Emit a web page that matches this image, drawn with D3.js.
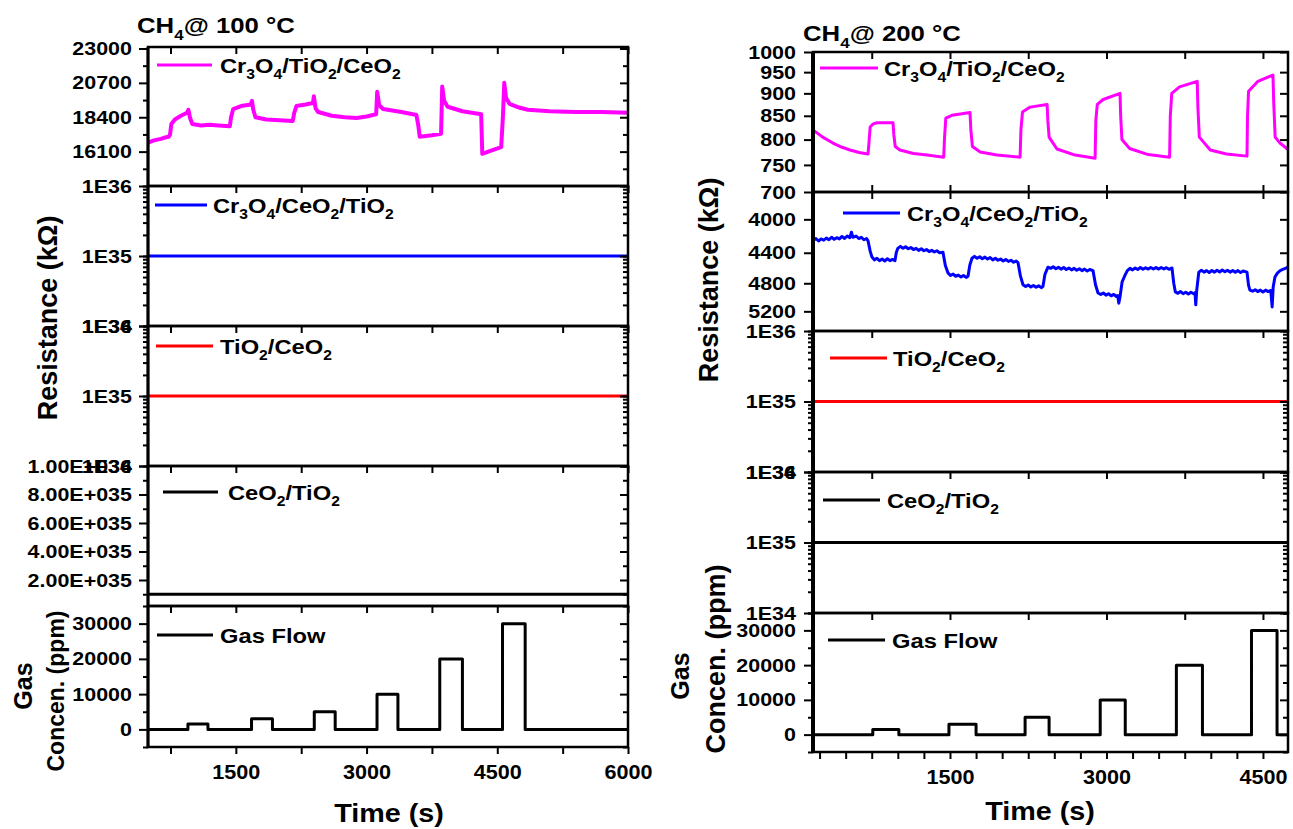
<!DOCTYPE html>
<html>
<head>
<meta charset="utf-8">
<script src="https://cdn.jsdelivr.net/npm/d3@7"></script>
<style>
  body { margin: 0; background: #fff; }
  svg text { font-family: Arial, "Liberation Sans", sans-serif; font-weight: bold; fill: #000; }
</style>
</head>
<body>
<svg id="chart" width="1293" height="829"></svg>
<script>
// ---- data ----
// CH4 @ 100 C, Cr3O4/TiO2/CeO2 resistance (kOhm) vs time (s)
const cr3TiCe100 = [
  [492,16700],[560,16850],[640,16950],[690,17050],[730,17100],[745,17250],[760,17950],[800,18250],[870,18500],
  [940,18700],[955,18900],[975,18350],[1000,17950],[1100,17850],[1200,17900],[1300,17850],[1431,17800],
  [1445,18400],[1470,18950],[1560,19150],[1670,19250],[1685,19500],[1700,18900],[1725,18400],[1850,18250],
  [2000,18200],[2153,18150],[2170,18700],[2195,19150],[2300,19250],[2385,19350],[2395,19800],[2415,19000],
  [2445,18750],[2600,18500],[2750,18400],[2885,18350],[3000,18450],[3110,18600],[3122,20100],[3145,19200],
  [3190,18950],[3400,18750],[3572,18550],[3595,17800],[3610,17100],[3750,17200],[3855,17300],[3868,20450],
  [3890,19500],[3930,19100],[4100,18800],[4315,18600],[4328,15950],[4420,16150],[4545,16400],[4565,18500],
  [4580,20700],[4600,19700],[4640,19300],[4750,19050],[4850,18900],[5100,18800],[5400,18750],[5700,18750],
  [6000,18700]
];
// CH4 @ 200 C, Cr3O4/TiO2/CeO2
const cr3TiCe200 = [
  [187,820],[280,805],[378,793],[460,785],[541,779],[630,774],[714,771],[722,790],[735,826],[760,832],
  [800,835],[954,835],[962,810],[975,786],[1020,779],[1150,772],[1280,769],[1440,765],[1448,805],[1460,845],
  [1519,851],[1600,854],[1692,857],[1700,820],[1715,786],[1790,775],[1950,769],[2172,765],[2180,820],
  [2195,858],[2268,869],[2431,875],[2438,840],[2450,805],[2525,781],[2700,769],[2891,763],[2898,840],
  [2912,875],[2968,886],[3130,900],[3136,850],[3148,800],[3222,782],[3400,770],[3605,765],[3612,850],
  [3626,900],[3700,915],[3870,928],[3876,870],[3890,805],[3995,779],[4150,771],[4347,767],[4352,850],
  [4362,905],[4452,928],[4596,943],[4603,880],[4617,805],[4663,793],[4740,780]
];
// CH4 @ 200 C, Cr3O4/CeO2/TiO2 (noisy trace)
const cr3CeTi200 = [
  [190,4250],[215,4225],[240,4255],[265,4230],[290,4245],[315,4220],[340,4240],[365,4210],[390,4235],
  [415,4215],[440,4230],[465,4200],[490,4225],[515,4195],[540,4215],[555,4150],[570,4210],[600,4195],
  [625,4225],[650,4210],[675,4240],[700,4225],[714,4250],[735,4380],[752,4455],[775,4490],[800,4470],
  [825,4500],[850,4480],[875,4505],[900,4475],[925,4500],[950,4485],[973,4500],[985,4400],[1000,4345],
  [1025,4320],[1050,4345],[1075,4325],[1100,4350],[1125,4335],[1150,4360],[1175,4345],[1200,4370],
  [1225,4350],[1250,4375],[1275,4360],[1300,4385],[1325,4370],[1350,4390],[1375,4375],[1400,4400],
  [1433,4395],[1455,4560],[1481,4660],[1505,4695],[1530,4675],[1555,4705],[1580,4690],[1605,4715],
  [1630,4695],[1655,4720],[1673,4705],[1690,4560],[1711,4470],[1735,4445],[1760,4470],[1785,4450],
  [1810,4475],[1835,4455],[1860,4480],[1885,4460],[1910,4490],[1935,4470],[1960,4495],[1985,4480],
  [2010,4505],[2035,4485],[2060,4510],[2085,4495],[2110,4520],[2135,4505],[2152,4525],[2175,4700],
  [2200,4820],[2225,4845],[2250,4825],[2275,4850],[2300,4830],[2325,4855],[2350,4835],[2375,4860],
  [2391,4845],[2410,4680],[2439,4585],[2465,4600],[2490,4580],[2515,4605],[2540,4585],[2565,4610],
  [2590,4590],[2615,4615],[2640,4595],[2665,4620],[2690,4600],[2715,4625],[2740,4605],[2765,4630],
  [2790,4610],[2815,4635],[2840,4615],[2871,4630],[2895,4820],[2919,4935],[2945,4955],[2970,4935],
  [2995,4965],[3020,4945],[3045,4975],[3070,4955],[3095,4985],[3108,4970],[3118,5080],[3130,4990],
  [3150,4780],[3178,4690],[3200,4630],[3225,4600],[3250,4620],[3275,4595],[3300,4615],[3325,4590],
  [3350,4612],[3375,4592],[3400,4610],[3425,4588],[3450,4608],[3475,4590],[3500,4610],[3525,4588],
  [3550,4608],[3575,4592],[3600,4612],[3628,4595],[3645,4800],[3660,4920],[3685,4940],[3710,4915],
  [3735,4945],[3760,4925],[3785,4950],[3810,4925],[3835,4945],[3849,4930],[3856,5105],[3865,4900],
  [3885,4650],[3910,4625],[3935,4650],[3960,4630],[3985,4655],[4010,4628],[4035,4650],[4060,4625],
  [4085,4648],[4110,4622],[4135,4645],[4160,4625],[4185,4650],[4210,4628],[4235,4652],[4260,4630],
  [4285,4655],[4310,4635],[4347,4650],[4362,4830],[4375,4895],[4400,4910],[4425,4890],[4450,4915],
  [4475,4895],[4500,4920],[4525,4895],[4550,4915],[4575,4900],[4588,5135],[4598,4850],[4615,4715],
  [4640,4660],[4665,4630],[4690,4615],[4715,4600],[4740,4585]
];
// sensors that stay flat
const flatLevel = 1e35;

// gas pulses
const gasLevel = [1500, 3000, 5000, 10000, 20000, 30000];
const gasStart100 = [950, 1680, 2400, 3120, 3840, 4560];
const gasEnd100 = [1180, 1920, 2640, 3360, 4100, 4820];
const gasStart200 = [760, 1490, 2220, 2940, 3670, 4390];
const gasEnd200 = [1010, 1750, 2450, 3180, 3920, 4635];

// tick labels
const ticks100Top = [16100, 18400, 20700, 23000];
const ticks200Top = [700, 750, 800, 850, 900, 950, 1000];
const ticks200Blue = [4000, 4400, 4800, 5200];
const logTicks = [1e34, 1e35, 1e36];
const linTicks = [2e35, 4e35, 6e35, 8e35, 1e36];
const gasTicks = [0, 10000, 20000, 30000];
const timeTicks100 = [1500, 3000, 4500, 6000];
const timeTicks200 = [1500, 3000, 4500];

// ---- helpers ----
const svg = d3.select('#chart');
const SX = 1.13;

function label(g, x, y, parts, size, anchor = 'start', rotate = false, sx = SX) {
  const t = g.append('text')
    .attr('transform', rotate ? `translate(${x},${y}) rotate(-90)` : `translate(${x},${y}) scale(${sx},1)`)
    .attr('font-size', size)
    .attr('text-anchor', anchor);
  let wasSub = false;
  parts.forEach(p => {
    const isSub = p.startsWith('_');
    const ts = t.append('tspan').text(isSub ? p.slice(1) : p);
    if (isSub) ts.attr('font-size', size * 0.66).attr('dy', size * 0.3);
    else if (wasSub) ts.attr('dy', -size * 0.3);
    wasSub = isSub;
  });
  return t;
}

const logFmt = d => '1E' + Math.round(Math.log10(d));
const sciFmt = d => {
  const e = Math.floor(Math.log10(d));
  return (d / Math.pow(10, e)).toFixed(2) + 'E+0' + e;
};

function styleAxis(a, fontSize, labelOff) {
  a.select('.domain').remove();
  a.selectAll('.tick line').attr('stroke', '#000').attr('stroke-width', 2);
  a.attr('font-size', fontSize).attr('font-family', null);
  if (labelOff !== undefined) {
    a.selectAll('.tick text').attr('x', 0).attr('transform', `translate(${labelOff},0) scale(${SX},1)`);
  }
}

function drawFigure(fig) {
  const g = svg.append('g');
  const x = d3.scaleLinear().domain(fig.tDomain).range([fig.x0, fig.x1]);

  fig.panels.forEach((p, i) => {
    const y = p.y;
    const pg = g.append('g');
    const clipId = `clip-${fig.id}-${i}`;
    pg.append('clipPath').attr('id', clipId).append('rect')
      .attr('x', fig.x0).attr('y', p.y0).attr('width', fig.x1 - fig.x0).attr('height', p.y1 - p.y0);

    // series
    const line = d3.line().x(d => x(d[0])).y(d => y(d[1]));
    pg.append('path').datum(p.data)
      .attr('clip-path', `url(#${clipId})`)
      .attr('d', line).attr('fill', 'none')
      .attr('stroke', p.color).attr('stroke-width', p.width || 3)
      .attr('stroke-linejoin', 'round');

    // left ticks
    const la = pg.append('g').attr('transform', `translate(${fig.x0},0)`)
      .call(d3.axisLeft(y).tickValues(p.minor).tickFormat('').tickSize(5));
    styleAxis(la, 10);
    const lm = pg.append('g').attr('transform', `translate(${fig.x0},0)`)
      .call(d3.axisLeft(y).tickValues(p.major).tickFormat(p.fmt).tickSize(9));
    styleAxis(lm, fig.yFont, -fig.labelGap);
    // right ticks (inward)
    const ra = pg.append('g').attr('transform', `translate(${fig.x1},0)`)
      .call(d3.axisRight(y).tickValues(p.minor).tickFormat('').tickSize(-5));
    styleAxis(ra, 10);
    const rm = pg.append('g').attr('transform', `translate(${fig.x1},0)`)
      .call(d3.axisRight(y).tickValues(p.major).tickFormat('').tickSize(-8));
    styleAxis(rm, 10);
    // top ticks (inward)
    const ta = pg.append('g').attr('transform', `translate(0,${p.y0})`)
      .call(d3.axisTop(x).tickValues(fig.topTicks).tickFormat('').tickSize(-7));
    styleAxis(ta, 10);
    if (p.bottomInward) {
      const ba = pg.append('g').attr('transform', `translate(0,${p.y1})`)
        .call(d3.axisBottom(x).tickValues(fig.topTicks).tickFormat('').tickSize(-7));
      styleAxis(ba, 10);
    }

    // frame
    pg.append('rect')
      .attr('x', fig.x0).attr('y', p.y0).attr('width', fig.x1 - fig.x0).attr('height', p.y1 - p.y0)
      .attr('fill', 'none').attr('stroke', '#000').attr('stroke-width', 2.5);

    // legend
    const L = p.legend;
    pg.append('line').attr('x1', L.x1).attr('x2', L.x2).attr('y1', L.y).attr('y2', L.y)
      .attr('stroke', p.color).attr('stroke-width', 3);
    label(pg, L.tx, L.y + 8, L.parts, 21);
  });

  // thick left spine
  g.append('line').attr('x1', fig.x0).attr('x2', fig.x0)
    .attr('y1', fig.panels[0].y0).attr('y2', fig.panels[fig.panels.length - 1].y1)
    .attr('stroke', '#000').attr('stroke-width', fig.spineW);

  // bottom axis
  const last = fig.panels[fig.panels.length - 1];
  const bx = g.append('g').attr('transform', `translate(0,${last.y1})`)
    .call(d3.axisBottom(x).tickValues(fig.bottomTicks)
      .tickFormat(d => fig.timeLabels.includes(d) ? d : '').tickSize(7).tickPadding(11));
  styleAxis(bx, 20);
  bx.selectAll('.tick text').attr('transform', `scale(1.08,1)`);

  // titles
  label(g, fig.title.x, fig.title.y, ['CH', '_4', '@ ' + fig.temp + ' \u00B0C'], 23, 'start', false, 1.12);
  label(g, fig.timeTitle.x, fig.timeTitle.y, ['Time (s)'], 25, 'middle', false, 1.15);
  label(g, fig.resTitle.x, fig.resTitle.y, ['Resistance (k\u03A9)'], 27, 'middle', true);
  label(g, fig.gasTitle.x, fig.gasTitle.y, ['Gas'], 25, 'middle', true);
  label(g, fig.concTitle.x, fig.concTitle.y, ['Concen. (ppm)'], fig.concSize, 'middle', true);
}

function gasSteps(starts, ends, t0, t1) {
  const pts = [[t0, 0]];
  starts.forEach((s, i) => {
    pts.push([s, 0], [s, gasLevel[i]], [ends[i], gasLevel[i]], [ends[i], 0]);
  });
  pts.push([t1, 0]);
  return pts;
}

// ---- left figure: 100 C ----
const tDom100 = [492, 6000];
const lp = [[47, 186], [186, 326], [326, 466], [466, 606], [606, 747]];
drawFigure({
  id: 'a', temp: 100, x0: 148, x1: 628, tDomain: tDom100, spineW: 3,
  yFont: 19, labelGap: 16,
  topTicks: d3.range(750, 6001, 750),
  bottomTicks: d3.range(750, 6001, 750),
  timeLabels: timeTicks100,
  title: { x: 137, y: 33 },
  timeTitle: { x: 389, y: 822 },
  resTitle: { x: 57, y: 318 },
  gasTitle: { x: 32, y: 686 },
  concTitle: { x: 64, y: 691 }, concSize: 23,
  panels: [
    { y0: lp[0][0], y1: lp[0][1], y: d3.scaleLinear().domain([13800, 23100]).range([lp[0][1], lp[0][0]]),
      major: ticks100Top, minor: d3.range(14950, 23100, 2300), fmt: d => d,
      data: cr3TiCe100, color: '#ff00ff', width: 4,
      legend: { x1: 157, x2: 212, y: 65, tx: 220, parts: ['Cr', '_3', 'O', '_4', '/TiO', '_2', '/CeO', '_2'] } },
    { y0: lp[1][0], y1: lp[1][1], y: d3.scaleLog().domain([1e34, 1e36]).range([lp[1][1], lp[1][0]]),
      major: logTicks, minor: d3.scaleLog().domain([1e34, 1e36]).ticks(), fmt: logFmt,
      data: tDom100.map(t => [t, flatLevel]), color: '#0000ff',
      legend: { x1: 155, x2: 207, y: 205, tx: 213, parts: ['Cr', '_3', 'O', '_4', '/CeO', '_2', '/TiO', '_2'] } },
    { y0: lp[2][0], y1: lp[2][1], y: d3.scaleLog().domain([1e34, 1e36]).range([lp[2][1], lp[2][0]]),
      major: logTicks, minor: d3.scaleLog().domain([1e34, 1e36]).ticks(), fmt: logFmt,
      data: tDom100.map(t => [t, flatLevel]), color: '#ff0000',
      legend: { x1: 156, x2: 213, y: 346, tx: 220, parts: ['TiO', '_2', '/CeO', '_2'] } },
    { y0: lp[3][0], y1: lp[3][1], y: d3.scaleLinear().domain([1.75e34, 1e36]).range([lp[3][1], lp[3][0]]),
      major: linTicks, minor: [1e35, 3e35, 5e35, 7e35, 9e35], fmt: sciFmt,
      data: tDom100.map(t => [t, flatLevel]), color: '#000',
      legend: { x1: 163, x2: 218, y: 492, tx: 228, parts: ['CeO', '_2', '/TiO', '_2'] } },
    { y0: lp[4][0], y1: lp[4][1], y: d3.scaleLinear().domain([-5000, 35000]).range([lp[4][1], lp[4][0]]),
      major: gasTicks, minor: [-5000, 5000, 15000, 25000, 35000], fmt: d => d,
      data: gasSteps(gasStart100, gasEnd100, tDom100[0], tDom100[1]), color: '#000',
      legend: { x1: 157, x2: 213, y: 635, tx: 220, parts: ['Gas Flow'] } }
  ]
});

// ---- right figure: 200 C ----
const tDom200 = [187, 4740];
const rp = [[52, 192], [192, 331], [331, 472], [472, 613], [613, 752]];
drawFigure({
  id: 'b', temp: 200, x0: 813, x1: 1288, tDomain: tDom200, spineW: 4,
  yFont: 19, labelGap: 17,
  topTicks: d3.range(750, 4741, 750),
  bottomTicks: d3.range(250, 4741, 250),
  timeLabels: timeTicks200,
  title: { x: 803, y: 41 },
  timeTitle: { x: 1040, y: 820 },
  resTitle: { x: 718, y: 280 },
  gasTitle: { x: 689, y: 676 },
  concTitle: { x: 725, y: 659 }, concSize: 27,
  panels: [
    { y0: rp[0][0], y1: rp[0][1], y: d3.scaleLog().domain([700, 1000]).range([rp[0][1], rp[0][0]]),
      major: ticks200Top, minor: [], fmt: d => d, bottomInward: true,
      data: cr3TiCe200, color: '#ff00ff', width: 3,
      legend: { x1: 820, x2: 878, y: 68, tx: 884, parts: ['Cr', '_3', 'O', '_4', '/TiO', '_2', '/CeO', '_2'] } },
    { y0: rp[1][0], y1: rp[1][1], y: d3.scaleLog().domain([3700, 5500]).range([rp[1][0], rp[1][1]]),
      major: ticks200Blue, minor: [], fmt: d => d,
      data: cr3CeTi200, color: '#0000ff', width: 3,
      legend: { x1: 843, x2: 900, y: 213, tx: 907, parts: ['Cr', '_3', 'O', '_4', '/CeO', '_2', '/TiO', '_2'] } },
    { y0: rp[2][0], y1: rp[2][1], y: d3.scaleLog().domain([1e34, 1e36]).range([rp[2][1], rp[2][0]]),
      major: logTicks, minor: d3.scaleLog().domain([1e34, 1e36]).ticks(), fmt: logFmt,
      data: tDom200.map(t => [t, flatLevel]), color: '#ff0000',
      legend: { x1: 830, x2: 887, y: 358, tx: 893, parts: ['TiO', '_2', '/CeO', '_2'] } },
    { y0: rp[3][0], y1: rp[3][1], y: d3.scaleLog().domain([1e34, 1e36]).range([rp[3][1], rp[3][0]]),
      major: logTicks, minor: d3.scaleLog().domain([1e34, 1e36]).ticks(), fmt: logFmt,
      data: tDom200.map(t => [t, flatLevel]), color: '#000',
      legend: { x1: 823, x2: 880, y: 500, tx: 887, parts: ['CeO', '_2', '/TiO', '_2'] } },
    { y0: rp[4][0], y1: rp[4][1], y: d3.scaleLinear().domain([-5000, 35000]).range([rp[4][1], rp[4][0]]),
      major: gasTicks, minor: [-5000, 5000, 15000, 25000, 35000], fmt: d => d,
      data: gasSteps(gasStart200, gasEnd200, tDom200[0], tDom200[1]), color: '#000',
      legend: { x1: 828, x2: 885, y: 640, tx: 892, parts: ['Gas Flow'] } }
  ]
});
</script>
</body>
</html>
